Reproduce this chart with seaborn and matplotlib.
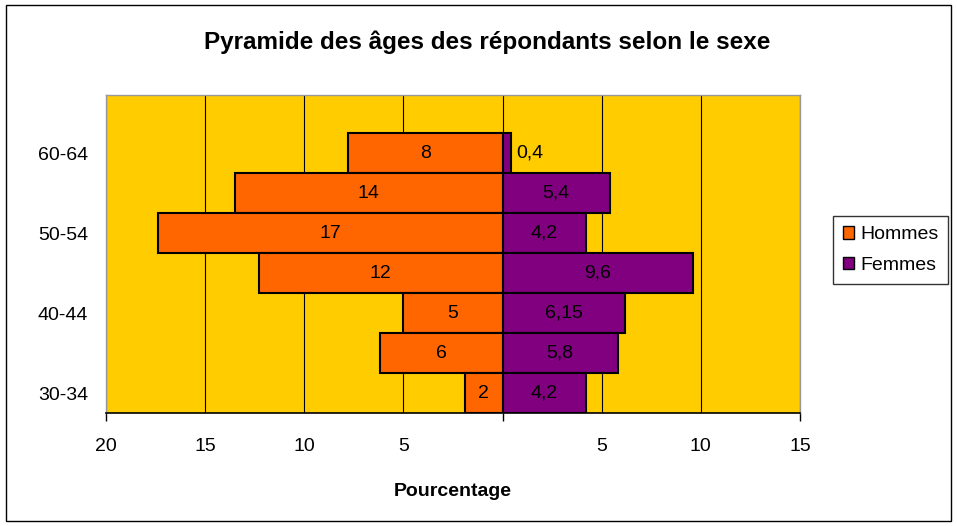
import matplotlib
matplotlib.use("Agg")
import matplotlib.pyplot as plt
from matplotlib.patches import Patch, Rectangle
from matplotlib.ticker import FixedLocator, FuncFormatter
import seaborn as sns
import pandas as pd

# age groups, bottom to top
ages = ["30-34", "35-39", "40-44", "45-49", "50-54", "55-59", "60-64"]
hommes = [1.9, 6.2, 5.0, 12.3, 17.4, 13.5, 7.8]
femmes = [4.2, 5.8, 6.15, 9.6, 4.2, 5.4, 0.4]
shown_ages = ["30-34", "40-44", "50-54", "60-64"]

c_h = "#FF6600"
c_f = "#800080"

sns.set_style("white")
plt.rcParams["font.family"] = ["Liberation Sans", "DejaVu Sans"]
plt.rcParams["text.color"] = "black"
plt.rcParams["xtick.color"] = "black"
plt.rcParams["ytick.color"] = "black"
plt.rcParams["axes.labelcolor"] = "black"

df = pd.DataFrame({"age": ages, "hommes": [-v for v in hommes], "femmes": femmes})
order = ages[::-1]

fig = plt.figure(figsize=(9.57, 5.26), dpi=100)
ax = fig.add_axes([106 / 957, 1 - 413 / 526, (800 - 106) / 957, (413 - 95) / 526])
ax.set_facecolor("#FFCC00")

sns.barplot(data=df, x="hommes", y="age", order=order, orient="h", color=c_h,
            saturation=1, width=1, edgecolor="black", linewidth=1.5, ax=ax)
sns.barplot(data=df, x="femmes", y="age", order=order, orient="h", color=c_f,
            saturation=1, width=1, edgecolor="black", linewidth=1.5, ax=ax)

# value labels
for i, a in enumerate(order):
    k = ages.index(a)
    ax.text(-hommes[k] / 2, i, f"{hommes[k]:.0f}", ha="center", va="center", fontsize=14)
    ax.text(femmes[k] / 2 if femmes[k] > 1 else femmes[k] + 0.3, i,
            f"{femmes[k]:g}".replace(".", ","),
            ha="center" if femmes[k] > 1 else "left", va="center", fontsize=14)

ax.set_xlim(-20, 15)
ax.set_ylim(6.5, -1.45)
ax.xaxis.set_major_locator(FixedLocator([-20, -15, -10, -5, 0, 5, 10, 15]))
ax.xaxis.set_major_formatter(FuncFormatter(lambda v, p: "" if v == 0 else f"{abs(v):g}"))
ax.xaxis.set_minor_locator(FixedLocator([-20, 0, 15]))
ax.xaxis.remove_overlapping_locs = False
ax.tick_params(axis="x", which="major", length=0, pad=18, labelsize=14)
ax.tick_params(axis="x", which="minor", length=6, width=1, color="black", bottom=True)
ax.set_yticks([order.index(a) for a in shown_ages])
ax.set_yticklabels(shown_ages)
ax.tick_params(axis="y", length=0, pad=13, labelsize=14)

ax.set_axisbelow(True)
ax.xaxis.grid(True, which="major", color="black", linewidth=0.8)

for s in ["left", "top", "right"]:
    ax.spines[s].set_color("#999999")
    ax.spines[s].set_linewidth(1)
ax.spines["bottom"].set_color("black")
ax.spines["bottom"].set_linewidth(1.2)

ax.set_xlabel("Pourcentage", fontsize=14, fontweight="bold", labelpad=20)
ax.set_ylabel("")

fig.suptitle("Pyramide des âges des répondants selon le sexe", x=487 / 957, y=1 - 30 / 526,
             fontsize=17.5, fontweight="bold")

handles = [Patch(facecolor=c_h, edgecolor="black", label="Hommes"),
           Patch(facecolor=c_f, edgecolor="black", label="Femmes")]
leg = fig.legend(handles=handles, loc="center left", bbox_to_anchor=(833 / 957, 1 - 250 / 526),
                 frameon=True, fancybox=False, fontsize=14, handlelength=0.6,
                 handleheight=0.6, handletextpad=0.3, borderpad=0.5, labelspacing=0.7,
                 borderaxespad=0)
leg.get_frame().set_edgecolor("black")
leg.get_frame().set_linewidth(1)

fig.patches.append(Rectangle((0.006, 0.01), 0.988, 0.98, transform=fig.transFigure,
                             fill=False, edgecolor="black", linewidth=1))

fig.savefig("out.png", dpi=100)
